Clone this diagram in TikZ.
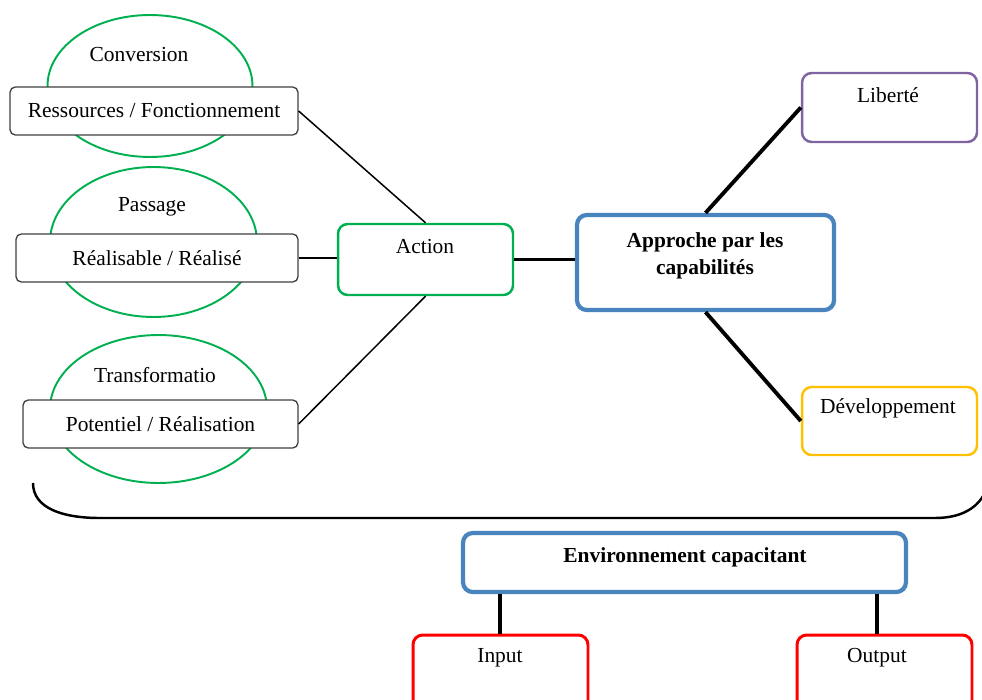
\documentclass[tikz,border=0pt]{standalone}
\usepackage{fontspec}
\setmainfont{Liberation Serif}
\usetikzlibrary{shapes.geometric}
\definecolor{vert}{HTML}{00B050}
\definecolor{bleu}{HTML}{4A84BE}
\definecolor{mauve}{HTML}{8064A2}
\definecolor{jaune}{HTML}{FFC000}
\definecolor{rouge}{HTML}{FF0000}
\newcommand\taille{\fontsize{12.2}{15.3}\selectfont}
\tikzset{
    bloc/.style={draw=#1, rounded corners=5.5pt, inner sep=0pt, fill=white},
    cadre/.style={draw=black!75, rounded corners=3pt, line width=0.75pt, fill=white,
                  inner sep=0pt, minimum height=0.96cm},
    ovale/.style={ellipse, draw=vert, line width=1.1pt, inner sep=0pt},
    lien/.style={line width=0.85pt},
    lien epais/.style={line width=2.2pt},
  }
\begin{document}
\begin{tikzpicture}[x=0.02cm, y=-0.02cm, every node/.append style={font=\taille}]
                                    \useasboundingbox (0,0) rectangle (982,699);
                                    \clip (0,0) rectangle (982,699);
                                    %ovales a gauche
                                    \node[ovale, minimum width=4.1cm, minimum height=2.84cm] (conv) at (150,86) {};
                                    \node (convt) at (139,55) {Conversion};
                                    \node[ovale, minimum width=4.14cm, minimum height=3cm] (pass) at (153.5,242) {};
                                    \node (passt) at (152,207) {Passage};
                                    \node[ovale, minimum width=4.34cm, minimum height=2.96cm] (trans) at (158.5,409) {};
                                    \node (transt) at (155,375) {Transformatio};
                                    \node[cadre, minimum width=5.76cm] (res) at (154,111) {Ressources / Fonctionnement};
                                    \node[cadre, minimum width=5.64cm] (rea) at (157,258) {Réalisable / Réalisé};
                                    \node[cadre, minimum width=5.5cm] (pot) at (160.5,424) {Potentiel / Réalisation};
                                    %centre
                                    \node[bloc=vert, line width=1.4pt, minimum width=3.5cm, minimum height=1.42cm] (act) at (425.5,259.5) {};
                                    \node (actt) at (425,247) {Action};
                                    \node[bloc=bleu, line width=2.4pt, minimum width=5.14cm, minimum height=1.9cm] (app) at (705.5,262.5) {};
                                    \node[font=\taille\bfseries, align=center] (appt) at (705,256) {Approche par les\\capabilités};
                                    %a droite
                                    \node[bloc=mauve, line width=1.4pt, minimum width=3.5cm, minimum height=1.38cm] (lib) at (889.5,107.5) {};
                                    \node (libt) at (888,95) {Liberté};
                                    \node[bloc=jaune, line width=1.4pt, minimum width=3.5cm, minimum height=1.36cm] (dev) at (889.5,421) {};
                                    \node (devt) at (888,408) {Développement};
                                    %environnement
                                    \node[bloc=bleu, line width=2.4pt, minimum width=8.86cm, minimum height=1.18cm] (env) at (684.5,562.5) {};
                                    \node[font=\taille\bfseries] (envt) at (685,557) {Environnement capacitant};
                                    \node[bloc=rouge, line width=1.7pt, minimum width=3.5cm, minimum height=1.8cm] (inp) at (500.5,680) {};
                                    \node (inpt) at (500,658) {Input};
                                    \node[bloc=rouge, line width=1.7pt, minimum width=3.5cm, minimum height=1.8cm] (out) at (884.5,680) {};
                                    \node (outt) at (877,658) {Output};
                                    %liens
                                    \draw[lien] (res.east) -- (act.north);
                                    \draw[lien] (rea.east) -- (rea.east -| act.west);
                                    \draw[lien] (pot.east) -- (act.south);
                                    \draw[lien epais] (act.east) -- (act.east -| app.west);
                                    \draw[lien epais] (app.north) -- (lib.west);
                                    \draw[lien epais] (app.south) -- (dev.west);
                                    \draw[lien epais] (env.south -| inpt) -- (inpt |- inp.north);
                                    \draw[lien epais] (env.south -| outt) -- (outt |- out.north);
                                    %accolade
                                    \draw[line width=1.4pt] (33,483) .. controls (33,508) and (62,518) .. (100,518) -- (935,518)
                                          .. controls (965,518) and (982,505) .. (988,485);
\end{tikzpicture}
\end{document}
